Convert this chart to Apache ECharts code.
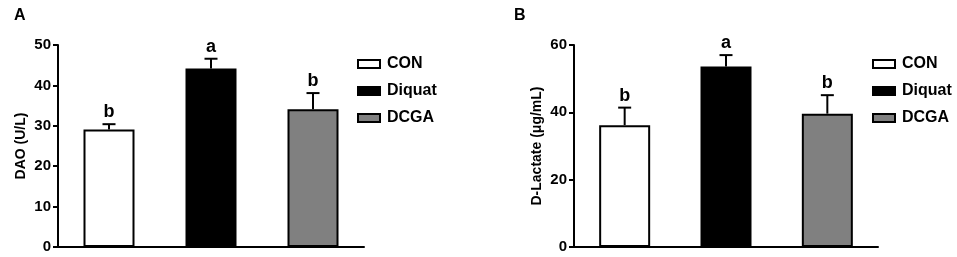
<!DOCTYPE html>
<html>
<head>
<meta charset="utf-8">
<script src="https://cdn.jsdelivr.net/npm/echarts@6/dist/echarts.min.js"></script>
<style>
html, body { margin: 0; padding: 0; background: #fff; }
#chart { width: 957px; height: 257px; }
</style>
</head>
<body>
<div id="chart"></div>
<script>
var groups = ['CON', 'Diquat', 'DCGA'];
var groupColors = ['#ffffff', '#000000', '#808080'];

var daoMean = [29.1, 44.2, 34.1];
var daoErr = [1.3, 2.4, 4.0];
var daoLetters = ['b', 'a', 'b'];

var lacMean = [36.2, 53.6, 39.6];
var lacErr = [5.2, 3.4, 5.5];
var lacLetters = ['b', 'a', 'b'];

var FONT = 'Liberation Sans, Arial, sans-serif';

var chart = echarts.init(document.getElementById('chart'));

function yAxis(gi, name, max, interval) {
    return {
        type: 'value', gridIndex: gi, min: 0, max: max, interval: interval,
        name: name, nameLocation: 'middle', nameGap: 30,
        nameTextStyle: { color: '#000', fontWeight: 'bold', fontSize: 14, fontFamily: FONT },
        axisLine: { show: true, lineStyle: { color: '#000', width: 2 } },
        axisTick: { show: true, length: 5, lineStyle: { color: '#000', width: 2 } },
        axisLabel: { color: '#000', fontWeight: 'bold', fontSize: 15, fontFamily: FONT, margin: 7 },
        splitLine: { show: false }
    };
}

function xAxis(gi) {
    return {
        type: 'category', gridIndex: gi, data: groups,
        axisLine: { lineStyle: { color: '#000', width: 2 } },
        axisTick: { show: false },
        axisLabel: { show: false }
    };
}

function barSeries(gi, means) {
    return groups.map(function (g, i) {
        return {
            type: 'bar', name: g, xAxisIndex: gi, yAxisIndex: gi,
            barWidth: 51, barGap: '-100%',
            itemStyle: { color: groupColors[i], borderColor: '#000', borderWidth: 2 },
            data: means.map(function (v, j) { return j === i ? v : '-'; })
        };
    });
}

function errSeries(gi, means, errs, letters) {
    return {
        type: 'custom', xAxisIndex: gi, yAxisIndex: gi, z: 5,
        data: means.map(function (v, i) { return [i, v, errs[i]]; }),
        encode: { x: 0, y: 1 },
        renderItem: function (params, api) {
            var i = api.value(0), m = api.value(1), e = api.value(2);
            var p0 = api.coord([i, m]);
            var p1 = api.coord([i, m + e]);
            var style = { stroke: '#000', lineWidth: 2 };
            return {
                type: 'group',
                children: [
                    { type: 'line', shape: { x1: p0[0], y1: p0[1], x2: p1[0], y2: p1[1] }, style: style },
                    { type: 'line', shape: { x1: p1[0] - 6.5, y1: p1[1], x2: p1[0] + 6.5, y2: p1[1] }, style: style },
                    { type: 'text', x: p1[0], y: p1[1] - 3,
                      style: { text: letters[params.dataIndex], fill: '#000', font: 'bold 18px ' + FONT,
                               textAlign: 'center', textVerticalAlign: 'bottom' } }
                ]
            };
        }
    };
}

function legend(left) {
    return {
        data: groups, orient: 'vertical', left: left, top: 51,
        icon: 'rect', itemWidth: 22, itemHeight: 8, itemGap: 11,
        textStyle: { color: '#000', fontWeight: 'bold', fontSize: 16, fontFamily: FONT, padding: [0, 0, 0, 2] },
        selectedMode: false
    };
}

var option = {
    animation: false,
    title: [
        { text: 'A', left: 9, top: 3, textStyle: { fontSize: 16, fontWeight: 'bold', fontFamily: FONT, color: '#000' } },
        { text: 'B', left: 509, top: 3, textStyle: { fontSize: 16, fontWeight: 'bold', fontFamily: FONT, color: '#000' } }
    ],
    legend: [legend(352), legend(867)],
    grid: [
        { left: 58, top: 45, width: 306, height: 202 },
        { left: 574, top: 45, width: 304, height: 202 }
    ],
    xAxis: [xAxis(0), xAxis(1)],
    yAxis: [yAxis(0, 'DAO (U/L)', 50, 10), yAxis(1, 'D-Lactate (μg/mL)', 60, 20)],
    series: [].concat(
        barSeries(0, daoMean),
        [errSeries(0, daoMean, daoErr, daoLetters)],
        barSeries(1, lacMean),
        [errSeries(1, lacMean, lacErr, lacLetters)]
    )
};

chart.setOption(option);
</script>
</body>
</html>
